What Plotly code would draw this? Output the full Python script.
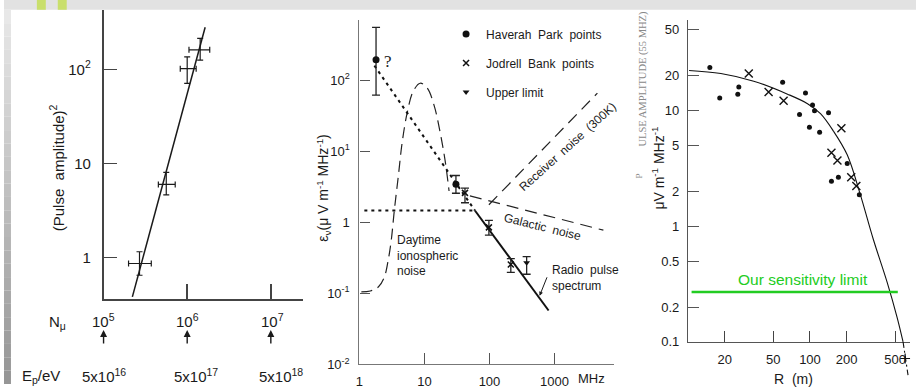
import math
import plotly.graph_objects as go

W, H = 916, 392
FONT = "Liberation Sans, Arial, sans-serif"
INK = "#1a1a1a"

# ---------------- panel 1: (pulse amplitude)^2 vs muon number ----------------
nmu = [2.69e5, 5.62e5, 1.0e6, 1.43e6]
nmu_lo = [1.99e5, 4.52e5, 8.26e5, 1.05e6]
nmu_hi = [3.72e5, 7.19e5, 1.28e6, 1.86e6]
amp2 = [0.866, 6.0, 102, 162]
amp2_lo = [0.65, 4.64, 71.4, 126]
amp2_hi = [1.155, 8.05, 136, 214]
fit_nmu = [2.21e5, 1.64e6]
fit_amp2 = [0.383, 281]
nmu_ticks = [1e5, 1e6, 1e7]
nmu_labels = ["10<sup>5</sup>", "10<sup>6</sup>", "10<sup>7</sup>"]
ep_labels = ["5x10<sup>16</sup>", "5x10<sup>17</sup>", "5x10<sup>18</sup>"]
amp2_ticks = [1, 10, 100]
amp2_ticktext = ["1", "10", "10<sup>2</sup>"]

# ---------------- panel 2: field strength spectrum ----------------
hp_freq = [1.8, 30.5]
hp_field = [195, 3.45]
hp_lo = [62, 2.57]
hp_hi = [556, 4.57]
jb_freq = [42, 98, 213]
jb_field = [2.6, 0.85, 0.255]
jb_lo = [1.89, 0.662, 0.198]
jb_hi = [3.04, 1.07, 0.309]
ul_freq = [373]
ul_field = [0.27]
ul_lo = [0.186]
ul_hi = [0.329]
iono_freq = [1.07, 1.47, 1.95, 2.41, 2.78, 3.09, 3.44, 3.96, 4.55, 5.43, 6.71,
             8.59, 11.0, 14.1, 17.4, 20.7, 23.9]
iono_field = [0.105, 0.108, 0.123, 0.169, 0.30, 0.565, 1.47, 4.45, 13.5, 35, 70,
              91, 78, 44, 18.6, 7.6, 2.76]
slope_freq = [1.7, 59.7]
slope_field = [161, 1.47]
flat_freq = [1.19, 59.7]
flat_field = [1.47, 1.47]
pulse_freq = [59.7, 812]
pulse_field = [1.47, 0.0574]
recv_freq = [98, 4570]
recv_field = [1.77, 66]
gal_freq = [50, 5650]
gal_field = [2.36, 0.776]
freq_ticks = [1, 10, 100, 1000]
freq_ticktext = ["1", "10", "100", "1000"]
field_ticks = [0.01, 0.1, 1, 10, 100]
field_ticktext = ["10<sup>-2</sup>", "10<sup>-1</sup>", "1", "10<sup>1</sup>", "10<sup>2</sup>"]

# ---------------- panel 3: lateral distribution at 55 MHz ----------------
dot_r = [15.1, 18.2, 25.6, 26.1, 59.7, 91.9, 82.1, 105, 109, 99, 120, 142, 150, 171, 202, 254]
dot_a = [23.6, 12.9, 13.9, 16.0, 17.6, 14.2, 9.25, 11.2, 10.0, 7.18, 6.5, 9.6, 2.45, 2.65, 3.49, 1.87]
cross_r = [31.5, 45.8, 60.8, 181, 150, 168, 218, 240]
cross_a = [21.0, 14.5, 12.2, 7.04, 4.32, 3.70, 2.65, 2.23]
fit_r = [10.2, 18.6, 34.6, 65.5, 95.5, 122, 156, 202, 258, 330, 429, 518, 580]
fit_a = [22.3, 21.0, 18.0, 13.9, 11.5, 9.43, 6.64, 4.15, 1.90, 0.776, 0.329, 0.163, 0.1]
tail_r = [580, 637]
tail_a = [0.1, 0.0515]
end_r = [603]
end_a = [0.0718]
sens_r = [10.7, 525]
sens_a = [0.27, 0.27]
r_ticks = [20, 50, 100, 200, 500]
amp_ticks = [0.1, 0.2, 0.5, 1, 2, 5, 10, 20, 50]
amp_ticktext = ["0.1", "0.2", "0.5", "1", "2", "5", "10", "20", "50"]


def px(x):
    return x / W


def py(y):
    return 1 - y / H


def lg(v):
    return math.log10(v)


def asym(vals, lo, hi):
    return ([h - v for v, h in zip(vals, hi)], [v - l for v, l in zip(vals, lo)])


fig = go.Figure()

# panel 1 traces
ey_p, ey_m = asym(amp2, amp2_lo, amp2_hi)
ex_p, ex_m = asym(nmu, nmu_lo, nmu_hi)
fig.add_trace(go.Scatter(
    x=nmu, y=amp2, mode="markers", marker=dict(size=1, color=INK),
    error_y=dict(type="data", array=ey_p, arrayminus=ey_m, color=INK, thickness=1.2, width=3),
    error_x=dict(type="data", array=ex_p, arrayminus=ex_m, color=INK, thickness=1.2, width=3),
    xaxis="x", yaxis="y", showlegend=False))
fig.add_trace(go.Scatter(x=fit_nmu, y=fit_amp2, mode="lines",
                         line=dict(color=INK, width=1.5), xaxis="x", yaxis="y", showlegend=False))

# panel 2 traces
fig.add_trace(go.Scatter(x=iono_freq, y=iono_field, mode="lines", line_shape="spline",
                         line=dict(color="#222", width=1.2, dash="11px,6px"),
                         xaxis="x2", yaxis="y2", showlegend=False))
for fx, fy in ((slope_freq, slope_field), (flat_freq, flat_field)):
    fig.add_trace(go.Scatter(x=fx, y=fy, mode="lines",
                             line=dict(color="#111", width=2, dash="3px,4px"),
                             xaxis="x2", yaxis="y2", showlegend=False))
for fx, fy in ((recv_freq, recv_field), (gal_freq, gal_field)):
    fig.add_trace(go.Scatter(x=fx, y=fy, mode="lines",
                             line=dict(color="#222", width=1.2, dash="12px,7px"),
                             xaxis="x2", yaxis="y2", showlegend=False))
fig.add_trace(go.Scatter(x=pulse_freq, y=pulse_field, mode="lines",
                         line=dict(color="#111", width=2), xaxis="x2", yaxis="y2", showlegend=False))

hp_p, hp_m = asym(hp_field, hp_lo, hp_hi)
fig.add_trace(go.Scatter(
    x=hp_freq, y=hp_field, mode="markers", name="Haverah  Park  points",
    marker=dict(symbol="circle", size=7, color="#111"),
    error_y=dict(type="data", array=hp_p, arrayminus=hp_m, color="#222", thickness=1.3, width=4),
    xaxis="x2", yaxis="y2", legendgroup="hp"))
jb_p, jb_m = asym(jb_field, jb_lo, jb_hi)
fig.add_trace(go.Scatter(
    x=jb_freq, y=jb_field, mode="markers", name="Jodrell  Bank  points",
    marker=dict(symbol="x-thin", size=6, color="#111", line=dict(width=1.5, color="#111")),
    error_y=dict(type="data", array=jb_p, arrayminus=jb_m, color="#222", thickness=1.3, width=4),
    xaxis="x2", yaxis="y2", legendgroup="jb"))
ul_p, ul_m = asym(ul_field, ul_lo, ul_hi)
fig.add_trace(go.Scatter(
    x=ul_freq, y=ul_field, mode="markers", name="Upper limit",
    marker=dict(symbol="triangle-down", size=6, color="#111"),
    error_y=dict(type="data", array=ul_p, arrayminus=ul_m, color="#222", thickness=1.3, width=4),
    xaxis="x2", yaxis="y2", legendgroup="ul"))

# panel 3 traces
fig.add_trace(go.Scatter(x=fit_r, y=fit_a, mode="lines", line_shape="spline",
                         line=dict(color="#111", width=1.1), xaxis="x3", yaxis="y3", showlegend=False))
fig.add_trace(go.Scatter(x=tail_r, y=tail_a, mode="lines",
                         line=dict(color="#111", width=1.1, dash="6px,3px,2px,3px"),
                         xaxis="x3", yaxis="y4", showlegend=False))
fig.add_trace(go.Scatter(x=end_r, y=end_a, mode="markers", cliponaxis=False,
                         marker=dict(symbol="cross-thin", size=7, line=dict(width=1.2, color="#111")),
                         xaxis="x3", yaxis="y4", showlegend=False))
fig.add_trace(go.Scatter(x=dot_r, y=dot_a, mode="markers",
                         marker=dict(symbol="circle", size=5, color="#111"),
                         xaxis="x3", yaxis="y3", showlegend=False))
fig.add_trace(go.Scatter(x=cross_r, y=cross_a, mode="markers",
                         marker=dict(symbol="x-thin", size=8, line=dict(width=1.4, color="#111")),
                         xaxis="x3", yaxis="y3", showlegend=False))
fig.add_trace(go.Scatter(x=sens_r, y=sens_a, mode="lines",
                         line=dict(color="#22cc22", width=2.5), xaxis="x3", yaxis="y3", showlegend=False))

# ---------------- axes ----------------
ax_common = dict(type="log", showgrid=False, zeroline=False, showline=True, ticks="inside",
                 tickfont=dict(family=FONT, color=INK))

fig.update_layout(
    width=W, height=H, margin=dict(l=0, r=0, t=0, b=0),
    paper_bgcolor="white", plot_bgcolor="rgba(0,0,0,0)",
    font=dict(family=FONT, color=INK),
    xaxis=dict(ax_common, domain=[px(100), px(300)], range=[5, 5 + 200 / 84], anchor="y",
               tickvals=[1e6, 1e7], showticklabels=False, ticklen=15, linecolor="#444",
               linewidth=1.5, tickcolor="#444", tickwidth=1.5),
    yaxis=dict(ax_common, domain=[py(305), py(10)], range=[-0.4375, 2.635], anchor="x",
               tickvals=amp2_ticks, ticktext=amp2_ticktext, ticklen=14, linecolor="#444",
               linewidth=1.5, tickcolor="#444", tickwidth=1.2, ticklabelstandoff=8,
               tickfont=dict(size=15, family=FONT, color=INK)),
    xaxis2=dict(ax_common, domain=[px(357), px(613)], range=[0, 256 / 65.3], anchor="y2",
                tickvals=freq_ticks, ticktext=freq_ticktext, ticklen=11, linecolor="#777",
                linewidth=1.3, tickcolor="#555", tickwidth=1.2, ticklabelstandoff=5,
                tickfont=dict(size=13, family=FONT, color=INK)),
    yaxis2=dict(ax_common, domain=[py(372), py(20)], range=[-2, -2 + 352 / 72.5], anchor="x2",
                tickvals=field_ticks, ticktext=field_ticktext, ticklen=10, linecolor="#777",
                linewidth=1.3, tickcolor="#555", tickwidth=1.2, ticklabelstandoff=6,
                tickfont=dict(size=13, family=FONT, color=INK)),
    xaxis3=dict(ax_common, domain=[px(687), px(910)], range=[1, 1 + 223 / 122.5], anchor="y3",
                tickvals=r_ticks, ticktext=[str(v) for v in r_ticks], ticklen=11,
                linecolor="#555", linewidth=1.2, tickcolor="#444", tickwidth=1.2,
                ticklabelstandoff=5, tickfont=dict(size=13, family=FONT, color=INK)),
    yaxis3=dict(ax_common, domain=[py(349), py(20)], range=[-1, -1 + 329 / 118], anchor="x3",
                tickvals=amp_ticks, ticktext=amp_ticktext, ticklen=11, linecolor="#555",
                linewidth=1.2, tickcolor="#555", tickwidth=1.2, ticklabelstandoff=5,
                tickfont=dict(size=13, family=FONT, color=INK)),
    yaxis4=dict(type="log", domain=[py(391), py(349)], range=[-1 - 42 / 118, -1], anchor="x3",
                visible=False, showgrid=False, zeroline=False),
    legend=dict(x=px(444), y=py(20), xanchor="left", yanchor="top", bgcolor="rgba(0,0,0,0)",
                font=dict(size=12, family=FONT, color=INK), tracegroupgap=10, itemwidth=30,
                traceorder="grouped"),
)

# ---------------- page decoration ----------------
shapes = [dict(type="rect", xref="paper", yref="paper", x0=0, x1=1, y0=py(10), y1=1,
               fillcolor="#e2e2e2", line_width=0, layer="above")]
for x0, x1 in ((33, 42), (54, 63)):
    shapes.append(dict(type="rect", xref="paper", yref="paper", x0=px(x0), x1=px(x1),
                       y0=py(10), y1=1, fillcolor="#c9df6c", line_width=0, layer="above"))
n = 28
for i in range(n):
    y0 = 10 + (H - 10) * i / n
    y1 = 10 + (H - 10) * (i + 1) / n
    g = int(232 - 82 * (i / (n - 1)))
    shapes.append(dict(type="rect", xref="paper", yref="paper", x0=0, x1=px(7),
                       y0=py(y1), y1=py(y0), fillcolor=f"rgb({g},{g},{g})", line_width=0,
                       layer="above"))
fig.update_layout(shapes=shapes)

# ---------------- text ----------------
ann = []


def text(t, x, y, xref="paper", yref="paper", size=13, **kw):
    d = dict(text=t, x=x, y=y, xref=xref, yref=yref, showarrow=False,
             xanchor=kw.pop("xanchor", "center"), yanchor=kw.pop("yanchor", "middle"),
             font=dict(size=size, family=kw.pop("family", FONT), color=kw.pop("color", INK)))
    d.update(kw)
    ann.append(d)


# panel 1
text("(Pulse  amplitude)<sup>2</sup>", px(53), py(171), size=15, textangle=-90)
text("N<sub>μ</sub>", px(54), py(329), size=15)
text("E<sub>p</sub>/eV", px(37), py(384), size=15)
nmu_shift = [0, 0, 2]
ep_shift = [0, 9, 10]
for v, lab, ep, s1, s2 in zip(nmu_ticks, nmu_labels, ep_labels, nmu_shift, ep_shift):
    text(lab, lg(v), py(327), xref="x", size=15, xshift=s1)
    text(ep, lg(v), py(383), xref="x", size=15, xshift=s2)
    ann.append(dict(text="", x=lg(v), y=py(337), xref="x", yref="paper", showarrow=True,
                    ax=0, ay=15, arrowhead=2, arrowsize=1, arrowwidth=1.4, arrowcolor=INK))

# panel 2
text("ε<sub>ν</sub>(μ V m<sup>-1</sup> MHz<sup>-1</sup>)", px(321), py(192), size=14, textangle=-90)
text("MHz", px(575), py(386), size=13, xanchor="left")
text("?", lg(hp_freq[0]) + 0.18, lg(hp_field[0]) - 0.02, xref="x2", yref="y2", size=17,
     family="Liberation Serif, Times New Roman, serif")
text("Daytime<br>ionospheric<br>noise", (393 - 357) / 65.3, -2 + (372 - 261) / 72.5,
     xref="x2", yref="y2", size=12, xanchor="left", align="left")
text("Radio  pulse<br>spectrum", (548 - 357) / 65.3, -2 + (372 - 284) / 72.5,
     xref="x2", yref="y2", size=12, xanchor="left", align="left")
text("Galactic  noise", (541 - 357) / 65.3, -2 + (372 - 232) / 72.5, xref="x2", yref="y2",
     size=12, textangle=14)
text("Receiver  noise  (300K)", (566 - 357) / 65.3, -2 + (372 - 150) / 72.5, xref="x2",
     yref="y2", size=12, textangle=-42)
ann.append(dict(text="", x=lg(590), y=lg(0.0925), xref="x2", yref="y2", showarrow=True,
                ax=8, ay=-20, arrowhead=2, arrowsize=0.8, arrowwidth=1, arrowcolor=INK))

# panel 3
text("μV m<sup>-1</sup> MHz<sup>-1</sup>", px(657), py(172), size=14, textangle=-90)
text("ULSE AMPLITUDE (55 MHZ)", px(642), py(80), size=10.5, textangle=-90, color="#888888",
     family="Liberation Serif, Times New Roman, serif")
text("P", px(638), py(180), size=9, textangle=-90, color="#888888",
     family="Liberation Serif, Times New Roman, serif")
text("R  (m)", px(793), py(387), size=14)
text("Our sensitivity limit", lg(88.5), lg(0.348), xref="x3", yref="y3", size=15.5,
     color="#22cc22")

fig.update_layout(annotations=ann)
fig.write_html("out.html")
